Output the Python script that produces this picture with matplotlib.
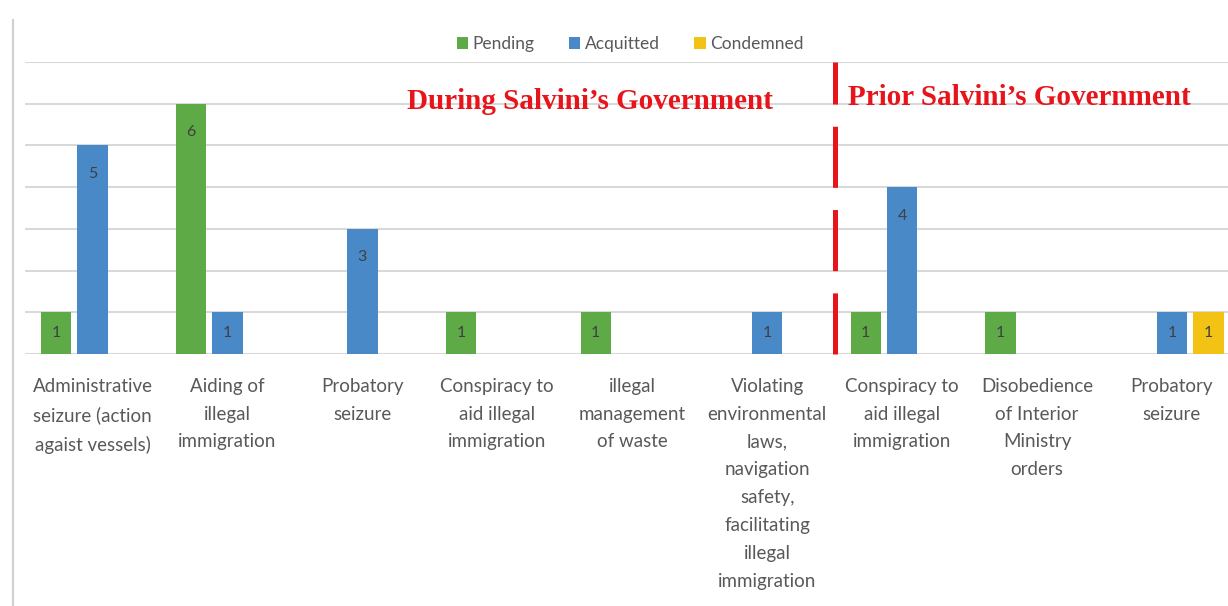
import matplotlib.pyplot as plt
from matplotlib.lines import Line2D
import numpy as np

categories = [
    "Administrative\nseizure (action\nagaist vessels)",
    "Aiding of\nillegal\nimmigration",
    "Probatory\nseizure",
    "Conspiracy to\naid illegal\nimmigration",
    "illegal\nmanagement\nof waste",
    "Violating\nenvironmental\nlaws,\nnavigation\nsafety,\nfacilitating\nillegal\nimmigration",
    "Conspiracy to\naid illegal\nimmigration",
    "Disobedience\nof Interior\nMinistry\norders",
    "Probatory\nseizure",
]
pending = [1, 6, 0, 1, 1, 0, 1, 1, 0]
acquitted = [5, 1, 3, 0, 0, 1, 4, 0, 1]
condemned = [0, 0, 0, 0, 0, 0, 0, 0, 1]

series = [("Pending", pending, "#5DAA47"),
          ("Acquitted", acquitted, "#4A89C8"),
          ("Condemned", condemned, "#F2C314")]

plt.rcParams['font.family'] = ['Lato', 'DejaVu Sans']
plt.rcParams['lines.scale_dashes'] = False

fig = plt.figure(figsize=(12.28, 6.06), dpi=100)
ax = fig.add_axes([25 / 1228, 252 / 606, 1 - 25 / 1228, 292 / 606])

x = np.arange(len(categories))
offsets = [-0.27, 0.0, 0.27]
width = 0.225
for (name, vals, color), off in zip(series, offsets):
    vals = np.array(vals)
    mask = vals > 0
    ax.bar(x[mask] + off, vals[mask], width, color=color, label=name, zorder=3)
    for xi, v in zip(x[mask] + off, vals[mask]):
        ax.text(xi, v - min(0.68, v / 2), str(v), ha='center', va='center',
                fontsize=11.5, color='#404040', zorder=4)

ax.set_xlim(-0.5, 8.415)
ax.set_ylim(0, 7)
ax.set_yticks(range(8))
ax.yaxis.grid(True, color='#d9d9d9', linewidth=1.5, zorder=0)
ax.tick_params(axis='y', left=False, labelleft=False)
ax.tick_params(axis='x', length=0, pad=17)
ax.set_xticks(x)
ax.set_xticklabels(categories, fontsize=13.5, color='#595959', linespacing=1.78, va='top')
for s in ax.spines.values():
    s.set_visible(False)

# separator between periods
ax.plot([5.5, 5.5], [0, 7], color='#E8141B', linewidth=3.6,
        dashes=(44, 16), dash_capstyle='butt', zorder=5, clip_on=False)

ax.text(3.69, 6.06, "During Salvini\u2019s Government", ha='center', va='center',
        fontsize=21, fontweight='bold', color='#E8141B', family='Liberation Serif', zorder=6)
ax.text(5.6, 6.16, "Prior Salvini\u2019s Government", ha='left', va='center',
        fontsize=21, fontweight='bold', color='#E8141B', family='Liberation Serif', zorder=6)

fig.legend(loc='center', bbox_to_anchor=(630 / 1228, 1 - 44 / 606), ncol=3, frameon=False,
           fontsize=12.5, handlelength=0.65, handleheight=0.65, handletextpad=0.25,
           columnspacing=2.0, labelcolor='#595959')

fig.add_artist(Line2D([13 / 1228, 13 / 1228], [0, 1 - 20 / 606], color='#d0d0d0',
                      linewidth=1.5, transform=fig.transFigure))

fig.savefig("out.png", dpi=100)
